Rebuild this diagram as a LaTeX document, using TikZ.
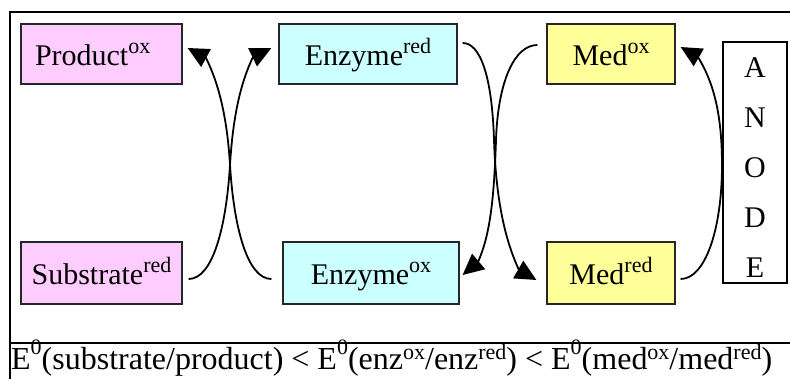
\documentclass[tikz,border=0pt]{standalone}
\usepackage{fontspec}
\IfFontExistsTF{Liberation Serif}{\setmainfont{Liberation Serif}}{\setmainfont{DejaVu Serif}}
\usetikzlibrary{arrows.meta}
\definecolor{pinkbox}{HTML}{FFCCFF}
\definecolor{cyanbox}{HTML}{CCFFFF}
\definecolor{yellowbox}{HTML}{FFFF99}
\newcommand\boxsup[1]{\raisebox{12pt}{\fontsize{22}{22}\selectfont #1}}
\newcommand\eqsup[1]{\raisebox{10pt}{\fontsize{22}{22}\selectfont #1}}
\newcommand\eqzero{\raisebox{15pt}{\fontsize{22}{22}\selectfont 0}}
\tikzset{
  cell/.style={draw=black!85, line width=1.2pt, inner sep=0pt,
    text height=24pt, text depth=0pt, font=\rmfamily\fontsize{30}{36}\selectfont},
  toprow/.style={cell, minimum height=60pt},
  botrow/.style={cell, minimum height=62pt},
  conn/.style={line width=1.8pt, -{Triangle[length=21pt,width=20pt]}},
  outerline/.style={line width=2pt},
}
\begin{document}
\begin{tikzpicture}[x=1pt,y=-1pt]
\useasboundingbox (0,0) rectangle (790,379);
% outer frame
\draw[outerline] (10,380) -- (10,12) -- (791,12);
\draw[outerline] (10,343) -- (791,343);
% boxes
\node[toprow, fill=pinkbox, minimum width=161pt, text width=133pt, align=left, inner xsep=14pt] (prod) at (101.5,54) {Product\boxsup{ox}};
\node[toprow, fill=cyanbox, minimum width=178pt] (enzred) at (368,54) {Enzyme\boxsup{red}};
\node[toprow, fill=yellowbox, minimum width=128pt] (medox) at (611,54) {Med\boxsup{ox}};
\node[botrow, fill=pinkbox, minimum width=161pt] (sub) at (101.5,273) {Substrate\boxsup{red}};
\node[botrow, fill=cyanbox, minimum width=176pt] (enzox) at (371,273) {Enzyme\boxsup{ox}};
\node[botrow, fill=yellowbox, minimum width=128pt] (medred) at (611,273) {Med\boxsup{red}};
\node[draw, line width=2pt, fill=white, minimum width=64pt, minimum height=241pt, inner sep=0pt,
  align=center, font=\rmfamily\fontsize{30}{50}\selectfont, text height=230pt, text depth=0pt] (anode) at (755,162.5) {A\\N\\O\\D\\E};
% connectors
\draw[conn] ([shift={(6,6)}]sub.east) .. controls (212,279) and (226,230) .. (230,165)
  .. controls (233,115) and (241,82) .. (253,57) -- ([shift={(-7,-6)}]enzred.west);
\draw[conn] ([shift={(-11,6)}]enzox.west) .. controls (248,279) and (234,230) .. (230,165)
  .. controls (227,115) and (218,82) .. (206,58) -- ([shift={(5,-6)}]prod.east);
\draw[conn] ([shift={(5,-11)}]enzred.east) .. controls (480,43) and (492,75) .. (494,140)
  .. controls (496,200) and (505,240) .. (519,270) -- ([shift={(-10,7)}]medred.west);
\draw[conn] ([shift={(-9,-9)}]medox.west) .. controls (515,45) and (498,80) .. (496,140)
  .. controls (494,200) and (490,235) .. (478,262) -- ([shift={(3,2)}]enzox.east);
\draw[conn] ([shift={(5,6)}]medred.east) .. controls (705,279) and (722,230) .. (722,165)
  .. controls (722,110) and (712,80) .. (698,57) -- ([shift={(5,-7)}]medox.east);
% potentials
\node[anchor=base west, inner sep=0pt, font=\rmfamily\fontsize{32}{36}\selectfont] (eqn) at (11,370)
  {E\eqzero(substrate/product) < E\eqzero(enz\eqsup{ox}/enz\eqsup{red}) < E\eqzero(med\eqsup{ox}/med\eqsup{red})};
\end{tikzpicture}
\end{document}
